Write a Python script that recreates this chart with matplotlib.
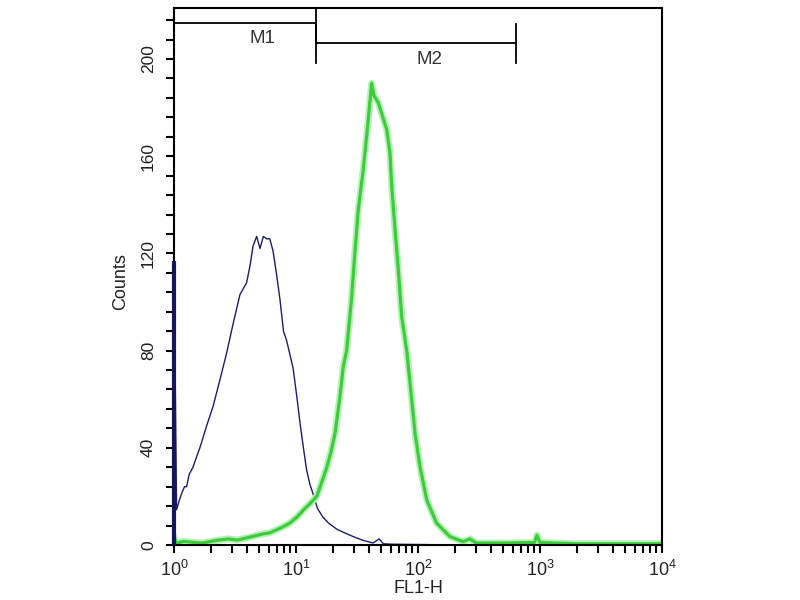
import numpy as np
import matplotlib.pyplot as plt
from matplotlib.ticker import MultipleLocator, FixedLocator, FixedFormatter

plt.rcParams['font.family'] = ['Liberation Sans', 'DejaVu Sans']
plt.rcParams['mathtext.fontset'] = 'custom'
plt.rcParams['mathtext.rm'] = 'Liberation Sans'
plt.rcParams['mathtext.it'] = 'Liberation Sans'

# isotype control (blue)
blue_x = [1.0, 1.0, 1.05, 1.10, 1.15, 1.22, 1.27, 1.33, 1.43, 1.55, 1.63, 1.75, 1.85,
          2.09, 2.38, 2.70, 3.05, 3.47, 3.94, 4.20, 4.44, 4.76, 5.07, 5.40, 5.75,
          6.10, 6.48, 6.9, 7.39, 7.9, 8.39, 9.45, 10.1, 10.8, 11.5, 12.2, 13.0,
          13.8, 15.0, 16.6, 18.5, 21.6, 25.0, 29.3, 35.0, 42.8, 48.0, 52.0, 62.0,
          100.0, 200.0, 10000.0]
blue_y = [0, 117, 14.5, 18, 21, 24, 24, 29, 32, 37, 40, 45, 49,
          57, 68, 79, 91, 103, 108, 115, 123, 127, 122, 127, 126,
          126, 121, 112, 101, 88, 84, 73, 62, 50, 40, 31, 25,
          21, 15, 11.5, 9, 6.5, 5, 3.5, 2, 0.8, 2.5, 0.5, 0.3,
          0.2, 0, 0]

# antibody stained (green)
green_x = [1.0, 1.05, 1.2, 1.5, 1.7, 2.3, 2.8, 3.3, 4.4, 5.3, 6.1, 7.5, 8.9,
           10.2, 11.5, 13.0, 14.8, 16.3, 17.9, 19.5, 20.9, 22.9, 24.4, 26.0,
           28.6, 30.5, 32.4, 35.6, 39.1, 41.7, 43.5, 47.3, 51.5, 55.4, 58.9,
           60.9, 64.8, 69.0, 73.5, 80.8, 86.0, 94.5, 104, 118, 142, 183, 234,
           267, 300, 500, 900, 945, 1000, 2000, 10000]
green_y = [3, 0.7, 1.5, 1, 0.8, 2, 2.5, 2, 3.5, 4.5, 5, 7, 9,
           11.5, 14.4, 17, 20, 26, 32, 39, 46, 61, 73.4, 80,
           102, 121.5, 138, 154.5, 175, 190, 185, 182, 176, 171, 161.5,
           147.6, 130, 113, 94, 80, 67, 46, 32, 18.5, 9, 3.4, 1.4,
           2.5, 0.8, 0.8, 1, 4, 1, 0.5, 0.5]

# marker gates: (label, start, end, level)
markers = [("M1", 1.0, 14.6, 215), ("M2", 14.6, 635, 206.5)]
marker_text = [("M1", 5.3, 208.5), ("M2", 125, 200)]

fig = plt.figure(figsize=(8, 6), dpi=100)
ax = fig.add_axes([0.2175, 0.0917, 0.61, 0.895])

ax.plot(blue_x, blue_y, color='#1c1c70', lw=1.0)
# pile-up in the first channel, drawn over the axis line like in the cytometer output
ax.vlines(blue_x[1], 0, blue_y[1], color='#16165e', lw=3.0, zorder=5, clip_on=False)
ax.plot(green_x, green_y, color='#b8f0b8', lw=5.0, solid_joinstyle='round')
ax.plot(green_x, green_y, color='#3ccc3c', lw=2.3, solid_joinstyle='round')

for name, x0, x1, lvl in markers:
    ax.plot([x0, x1], [lvl, lvl], color='black', lw=1.3)
    ax.plot([x0, x0], [lvl - 8, lvl + 8], color='black', lw=1.3)
    ax.plot([x1, x1], [lvl - 8, lvl + 8], color='black', lw=1.3)
for name, tx, ty in marker_text:
    ax.text(tx, ty, name, ha='center', va='center', fontsize=13.5, color='#333333')

ax.set_xscale('log')
ax.set_xlim(1, 10000)
ax.set_ylim(0, 221)

ax.xaxis.set_major_locator(FixedLocator([1, 10, 100, 1000, 10000]))
ax.xaxis.set_major_formatter(FixedFormatter([r'$10^{0}$', r'$10^{1}$', r'$10^{2}$',
                                             r'$10^{3}$', r'$10^{4}$']))
minor = [m * 10 ** d for d in range(4) for m in range(2, 10)]
ax.xaxis.set_minor_locator(FixedLocator(minor))
ax.yaxis.set_major_locator(MultipleLocator(40))
ax.yaxis.set_minor_locator(MultipleLocator(8))

ax.tick_params(axis='both', which='both', direction='out', width=1.5, length=6,
               colors='black', labelcolor='#222222')
ax.tick_params(axis='x', which='major', labelsize=13, pad=5)
ax.tick_params(axis='y', which='major', labelsize=12.5, pad=7)
for lab in ax.get_yticklabels():
    lab.set_rotation(90)
    lab.set_va('center')
ax.tick_params(axis='x', which='minor', labelbottom=False)
ax.tick_params(axis='y', which='minor', labelleft=False)

for sp in ax.spines.values():
    sp.set_linewidth(1.5)
    sp.set_color('black')

ax.set_ylabel('Counts', fontsize=13, color='#222222', labelpad=4)
ax.yaxis.set_label_coords(-0.092, 0.49)
ax.set_xlabel('FL1-H', fontsize=13, color='#222222', labelpad=0)

fig.savefig('out.png', dpi=100)
